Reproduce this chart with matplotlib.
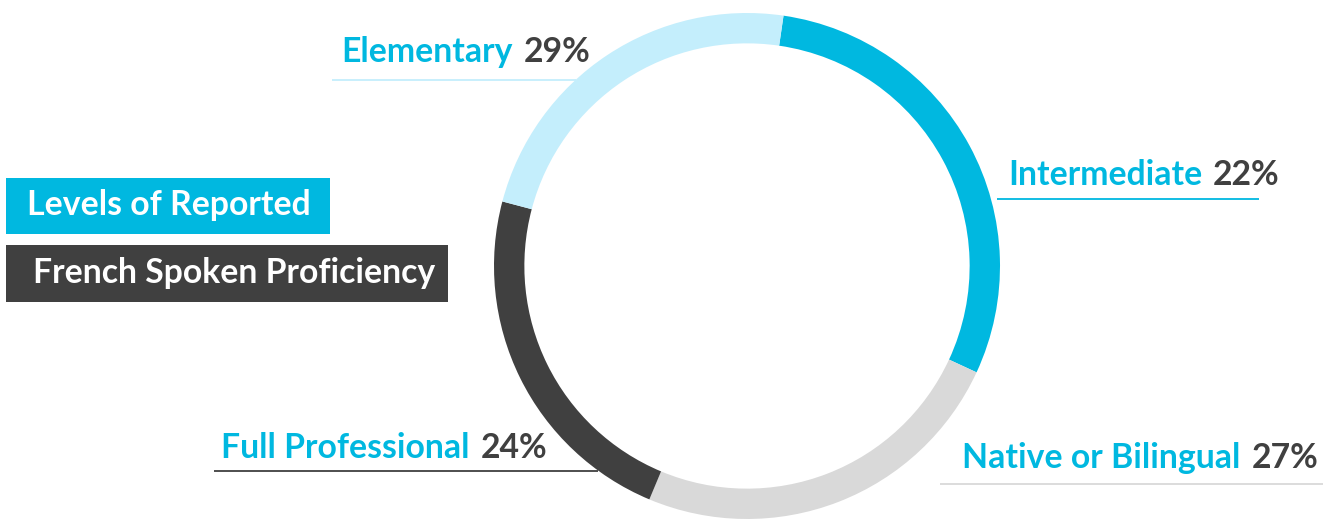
import matplotlib.pyplot as plt
from matplotlib.patches import Rectangle

# proficiency levels, clockwise from the top
levels = ["Intermediate", "Native or Bilingual", "Full Professional", "Elementary"]
printed_pct = [22, 27, 24, 29]
# the drawn arcs don't follow the printed numbers, these are read off the ring
arc_share = [29.6, 24.4, 22.8, 23.2]
title_lines = ["Levels of Reported", "French Spoken Proficiency"]

BLUE = "#00b8e0"
LIGHT_BLUE = "#c4eefc"
LIGHT_GRAY = "#d9d9d9"
DARK = "#404040"
ring_colors = [BLUE, LIGHT_GRAY, DARK, LIGHT_BLUE]
FONT = "Lato"
FS = 24.3

W, H = 1335, 520
fig = plt.figure(figsize=(W / 100, H / 100), dpi=100)

# overlay in pixel coordinates for labels, lines and title boxes
ax = fig.add_axes([0, 0, 1, 1], zorder=0)
ax.set_xlim(0, W)
ax.set_ylim(H, 0)
ax.axis("off")

# donut
cx, cy, r = 747, 266, 253
pax = fig.add_axes([(cx - r) / W, (H - cy - r) / H, 2 * r / W, 2 * r / H], zorder=1)
pax.patch.set_alpha(0)
pax.pie(arc_share, colors=ring_colors, startangle=81.7, counterclock=False,
        radius=1, wedgeprops=dict(width=0.12, linewidth=0))
pax.set_xlim(-1, 1)
pax.set_ylim(-1, 1)
pax.set_aspect("equal")
pax.axis("off")

# label positions (left x, text center y, underline y, underline x range)
label_pos = {
    "Elementary": (341, 52, 80, (332, 576)),
    "Intermediate": (1008, 175, 199, (997, 1259)),
    "Native or Bilingual": (962, 458, 484, (940, 1323)),
    "Full Professional": (221, 448, 471, (214, 598)),
}
line_colors = {"Elementary": LIGHT_BLUE, "Intermediate": BLUE,
               "Native or Bilingual": LIGHT_GRAY, "Full Professional": DARK}

fig.canvas.draw()
renderer = fig.canvas.get_renderer()
for name, pct in zip(levels, printed_pct):
    x, y, ly, (x0, x1) = label_pos[name]
    t = ax.text(x, y, name, color=BLUE, fontsize=FS, fontweight="bold",
                family=FONT, ha="left", va="center")
    bb = t.get_window_extent(renderer)
    ax.text(x + bb.width + 11, y, f"{pct}%", color=DARK, fontsize=FS,
            fontweight="bold", family=FONT, ha="left", va="center")
    ax.plot([x0, x1], [ly, ly], color=line_colors[name], lw=1.3,
            solid_capstyle="butt")

# title boxes
ax.add_patch(Rectangle((6, 178), 324, 56, color=BLUE, lw=0))
ax.add_patch(Rectangle((6, 245), 442, 57, color=DARK, lw=0))
ax.text(27, 205, title_lines[0], color="white", fontsize=FS,
        fontweight="bold", family=FONT, ha="left", va="center")
ax.text(33, 273, title_lines[1], color="white", fontsize=FS,
        fontweight="bold", family=FONT, ha="left", va="center")

fig.savefig("out.png", dpi=100, facecolor="white")
